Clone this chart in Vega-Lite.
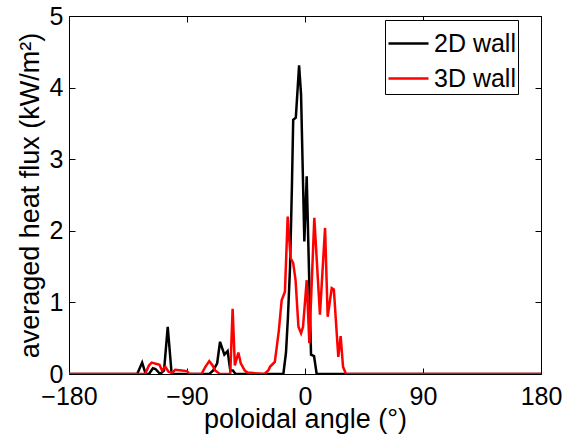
{
  "$schema": "https://vega.github.io/schema/vega-lite/v6.json",
  "width": 472,
  "height": 358,
  "autosize": {"type": "none"},
  "padding": {"left": 69, "top": 16, "right": 22, "bottom": 62},
  "background": "white",
  "config": {
    "view": {"stroke": "black", "strokeWidth": 1},
    "font": "Liberation Sans",
    "axis": {"grid": false, "domain": false, "tickColor": "black", "tickSize": -6, "labelColor": "black", "titleColor": "black", "labelFont": "Liberation Sans", "titleFont": "Liberation Sans", "labelFontSize": 25, "titleFontSize": 27, "titleFontWeight": "normal"},
    "legend": {"labelFont": "Liberation Sans"}
  },
  "datasets": {
    "flux": [
      {"angle": -180, "flux": 0, "wall": "2D wall"},
      {"angle": -128, "flux": 0, "wall": "2D wall"},
      {"angle": -124.2, "flux": 0.16, "wall": "2D wall"},
      {"angle": -121.5, "flux": 0, "wall": "2D wall"},
      {"angle": -119, "flux": 0, "wall": "2D wall"},
      {"angle": -116, "flux": 0.08, "wall": "2D wall"},
      {"angle": -114, "flux": 0.07, "wall": "2D wall"},
      {"angle": -110.5, "flux": 0, "wall": "2D wall"},
      {"angle": -107.5, "flux": 0.05, "wall": "2D wall"},
      {"angle": -104.7, "flux": 0.66, "wall": "2D wall"},
      {"angle": -101.7, "flux": 0, "wall": "2D wall"},
      {"angle": -73, "flux": 0, "wall": "2D wall"},
      {"angle": -70, "flux": 0.05, "wall": "2D wall"},
      {"angle": -67, "flux": 0.15, "wall": "2D wall"},
      {"angle": -64.8, "flux": 0.45, "wall": "2D wall"},
      {"angle": -61.5, "flux": 0.27, "wall": "2D wall"},
      {"angle": -59, "flux": 0.32, "wall": "2D wall"},
      {"angle": -57, "flux": 0.05, "wall": "2D wall"},
      {"angle": -55, "flux": 0.05, "wall": "2D wall"},
      {"angle": -53, "flux": 0, "wall": "2D wall"},
      {"angle": -16.5, "flux": 0, "wall": "2D wall"},
      {"angle": -14.5, "flux": 0.3, "wall": "2D wall"},
      {"angle": -13, "flux": 0.8, "wall": "2D wall"},
      {"angle": -11.4, "flux": 1.5, "wall": "2D wall"},
      {"angle": -10, "flux": 2.6, "wall": "2D wall"},
      {"angle": -9, "flux": 3.55, "wall": "2D wall"},
      {"angle": -7, "flux": 3.58, "wall": "2D wall"},
      {"angle": -4.5, "flux": 4.31, "wall": "2D wall"},
      {"angle": -3, "flux": 3.9, "wall": "2D wall"},
      {"angle": -0.5, "flux": 1.85, "wall": "2D wall"},
      {"angle": 1.3, "flux": 2.76, "wall": "2D wall"},
      {"angle": 4.6, "flux": 0.27, "wall": "2D wall"},
      {"angle": 6.9, "flux": 0.25, "wall": "2D wall"},
      {"angle": 8.9, "flux": 0, "wall": "2D wall"},
      {"angle": 180, "flux": 0, "wall": "2D wall"},
      {"angle": -180, "flux": 0, "wall": "3D wall"},
      {"angle": -122, "flux": 0, "wall": "3D wall"},
      {"angle": -119, "flux": 0.12, "wall": "3D wall"},
      {"angle": -117, "flux": 0.16, "wall": "3D wall"},
      {"angle": -113, "flux": 0.14, "wall": "3D wall"},
      {"angle": -111, "flux": 0.13, "wall": "3D wall"},
      {"angle": -109, "flux": 0.05, "wall": "3D wall"},
      {"angle": -106.5, "flux": 0.1, "wall": "3D wall"},
      {"angle": -104, "flux": 0.03, "wall": "3D wall"},
      {"angle": -101, "flux": 0.02, "wall": "3D wall"},
      {"angle": -99, "flux": 0.06, "wall": "3D wall"},
      {"angle": -94, "flux": 0.05, "wall": "3D wall"},
      {"angle": -90, "flux": 0.04, "wall": "3D wall"},
      {"angle": -88, "flux": 0, "wall": "3D wall"},
      {"angle": -79, "flux": 0, "wall": "3D wall"},
      {"angle": -76, "flux": 0.1, "wall": "3D wall"},
      {"angle": -73, "flux": 0.18, "wall": "3D wall"},
      {"angle": -70.5, "flux": 0.12, "wall": "3D wall"},
      {"angle": -68.5, "flux": 0.05, "wall": "3D wall"},
      {"angle": -65, "flux": 0, "wall": "3D wall"},
      {"angle": -57, "flux": 0, "wall": "3D wall"},
      {"angle": -55.2, "flux": 0.91, "wall": "3D wall"},
      {"angle": -53.5, "flux": 0.12, "wall": "3D wall"},
      {"angle": -50.8, "flux": 0.3, "wall": "3D wall"},
      {"angle": -49, "flux": 0.15, "wall": "3D wall"},
      {"angle": -46, "flux": 0.05, "wall": "3D wall"},
      {"angle": -44, "flux": 0.02, "wall": "3D wall"},
      {"angle": -31, "flux": 0, "wall": "3D wall"},
      {"angle": -28, "flux": 0.05, "wall": "3D wall"},
      {"angle": -26.7, "flux": 0.1, "wall": "3D wall"},
      {"angle": -23, "flux": 0.17, "wall": "3D wall"},
      {"angle": -20, "flux": 0.6, "wall": "3D wall"},
      {"angle": -17.8, "flux": 1.03, "wall": "3D wall"},
      {"angle": -15.3, "flux": 1.15, "wall": "3D wall"},
      {"angle": -13.2, "flux": 2.2, "wall": "3D wall"},
      {"angle": -11, "flux": 1.62, "wall": "3D wall"},
      {"angle": -9, "flux": 1.55, "wall": "3D wall"},
      {"angle": -7.2, "flux": 1.31, "wall": "3D wall"},
      {"angle": -5, "flux": 0.66, "wall": "3D wall"},
      {"angle": -3, "flux": 0.57, "wall": "3D wall"},
      {"angle": -1.5, "flux": 0.66, "wall": "3D wall"},
      {"angle": 1.3, "flux": 1.31, "wall": "3D wall"},
      {"angle": 3.3, "flux": 0.43, "wall": "3D wall"},
      {"angle": 7.1, "flux": 2.18, "wall": "3D wall"},
      {"angle": 11.4, "flux": 0.83, "wall": "3D wall"},
      {"angle": 15.3, "flux": 2.04, "wall": "3D wall"},
      {"angle": 17.3, "flux": 0.8, "wall": "3D wall"},
      {"angle": 20.4, "flux": 1.2, "wall": "3D wall"},
      {"angle": 22, "flux": 1.18, "wall": "3D wall"},
      {"angle": 25.4, "flux": 0.24, "wall": "3D wall"},
      {"angle": 27.2, "flux": 0.53, "wall": "3D wall"},
      {"angle": 29, "flux": 0.1, "wall": "3D wall"},
      {"angle": 31.3, "flux": 0, "wall": "3D wall"},
      {"angle": 180, "flux": 0, "wall": "3D wall"}
    ]
  },
  "data": {"name": "flux"},
  "layer": [
    {
      "mark": {"type": "line", "strokeWidth": 2.5, "clip": true},
      "encoding": {
        "x": {"field": "angle", "type": "quantitative", "scale": {"domain": [-180, 180], "nice": false, "zero": false},
              "axis": {"orient": "bottom", "values": [-180, -90, 0, 90, 180], "title": "poloidal angle (°)", "labelPadding": 16, "titlePadding": -3, "labelFlush": false}},
        "y": {"field": "flux", "type": "quantitative", "scale": {"domain": [0, 5], "nice": false},
              "axis": {"orient": "left", "values": [0, 1, 2, 3, 4, 5], "title": "averaged heat flux (kW/m²)", "labelPadding": 12, "titlePadding": 5, "labelFlush": false}},
        "color": {"field": "wall", "type": "nominal", "scale": {"domain": ["2D wall", "3D wall"], "range": ["black", "red"]},
                  "legend": {"title": null, "orient": "none", "legendX": 316, "legendY": 4, "strokeColor": "black", "fillColor": "white", "padding": 2, "symbolType": "stroke", "symbolSize": 1600, "symbolStrokeWidth": 2.5, "labelFontSize": 25, "labelOffset": 4, "rowPadding": -10, "labelLimit": 300}}
      }
    },
    {
      "mark": {"type": "rule", "opacity": 0},
      "encoding": {
        "x": {"field": "angle", "type": "quantitative", "axis": {"orient": "top", "values": [-180, -90, 0, 90, 180], "labels": false, "title": null}},
        "y": {"field": "flux", "type": "quantitative", "axis": {"orient": "right", "values": [0, 1, 2, 3, 4, 5], "labels": false, "title": null}}
      }
    }
  ],
  "resolve": {"axis": {"x": "independent", "y": "independent"}}
}
